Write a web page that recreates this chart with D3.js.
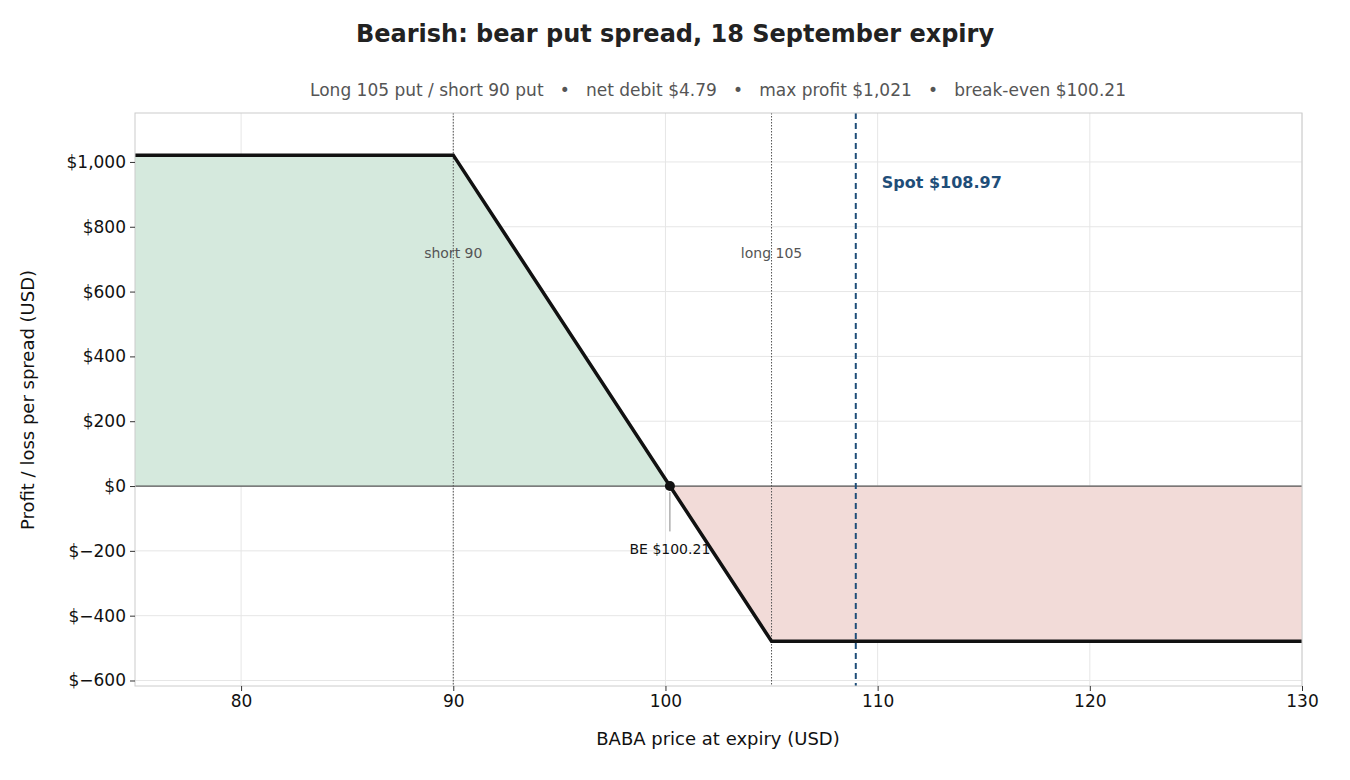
<!DOCTYPE html>
<html><head><meta charset="utf-8">
<script src="https://cdn.jsdelivr.net/npm/d3@7"></script>
<style>body{margin:0;background:#fff}text{font-family:"DejaVu Sans",sans-serif}</style>
</head><body><svg id="c" width="1350" height="780"></svg>
<script>
const payoffX = [75, 90, 105, 130];
const payoffY = [1021, 1021, -479, -479];
const xTicks = [80, 90, 100, 110, 120, 130];
const yTicks = [-600, -400, -200, 0, 200, 400, 600, 800, 1000];
const strikes = [{k:90,label:"short 90"},{k:105,label:"long 105"}];
const spot = 108.97, breakEven = 100.21;

const svg = d3.select("#c");
const L=135,R=1302,T=113,B=686;
const x = d3.scaleLinear().domain([75,130]).range([L,R]);
const y = d3.scaleLinear().domain([-617,1151]).range([B,T]);
const pts = payoffX.map((v,i)=>[v,payoffY[i]]);

// grid
svg.append("g").selectAll("line").data(xTicks).join("line")
 .attr("x1",d=>x(d)).attr("x2",d=>x(d)).attr("y1",T).attr("y2",B).attr("stroke","#e6e6e6");
svg.append("g").selectAll("line").data(yTicks).join("line")
 .attr("y1",d=>y(d)).attr("y2",d=>y(d)).attr("x1",L).attr("x2",R).attr("stroke","#e6e6e6");

// fills
const area = d3.area().x(d=>x(d[0])).y0(y(0)).y1(d=>y(d[1]));
const profitPts = [[75,1021],[90,1021],[breakEven,0]];
const lossPts = [[breakEven,0],[105,-479],[130,-479]];
svg.append("path").attr("d",area(profitPts)).attr("fill","#d5e9dd");
svg.append("path").attr("d",area(lossPts)).attr("fill","#f2dbd8");

// zero line
svg.append("line").attr("x1",L).attr("x2",R).attr("y1",y(0)).attr("y2",y(0)).attr("stroke","#555").attr("stroke-width",1.3);

// strikes
strikes.forEach(s=>{
 svg.append("line").attr("x1",x(s.k)).attr("x2",x(s.k)).attr("y1",T).attr("y2",B)
  .attr("stroke","#555").attr("stroke-width",1).attr("stroke-dasharray","1.5,1.5");
 svg.append("text").attr("x",x(s.k)).attr("y",y(720)+5).attr("text-anchor","middle")
  .attr("font-size",14).attr("fill","#555").text(s.label);
});
// spot
svg.append("line").attr("x1",x(spot)).attr("x2",x(spot)).attr("y1",T).attr("y2",B)
 .attr("stroke","#1f4e79").attr("stroke-width",2).attr("stroke-dasharray","6,4");
svg.append("text").attr("x",x(spot)+26).attr("y",188).attr("font-size",16).attr("font-weight","bold")
 .attr("fill","#1f4e79").text("Spot $108.97");

// payoff line
svg.append("path").attr("d",d3.line().x(d=>x(d[0])).y(d=>y(d[1]))(pts))
 .attr("fill","none").attr("stroke","#111").attr("stroke-width",3.5);

// BE
svg.append("line").attr("x1",x(breakEven)).attr("x2",x(breakEven)).attr("y1",y(0)+6).attr("y2",y(-140))
 .attr("stroke","#888").attr("stroke-width",1);
svg.append("circle").attr("cx",x(breakEven)).attr("cy",y(0)).attr("r",5).attr("fill","#111");
svg.append("text").attr("x",x(breakEven)).attr("y",554).attr("text-anchor","middle").attr("font-size",14)
 .attr("fill","#111").text("BE $100.21");

// frame
svg.append("rect").attr("x",L).attr("y",T).attr("width",R-L).attr("height",B-T).attr("fill","none").attr("stroke","#ccc");

// axes
const xa = svg.append("g").attr("transform",`translate(0,${B})`).call(d3.axisBottom(x).tickValues(xTicks).tickSize(5).tickPadding(4));
const ya = svg.append("g").attr("transform",`translate(${L},0)`).call(d3.axisLeft(y).tickValues(yTicks).tickSize(5).tickPadding(4).tickFormat(d=>"$"+d3.format(",")(d)));
[xa,ya].forEach(a=>{a.select(".domain").remove();a.selectAll("line").attr("stroke","#333");a.selectAll("text").attr("font-size",17).attr("fill","#111").attr("font-family","DejaVu Sans");});

svg.append("text").attr("x",675).attr("y",42).attr("text-anchor","middle").attr("font-size",24).attr("font-weight","bold").attr("fill","#222")
 .text("Bearish: bear put spread, 18 September expiry");
svg.append("text").attr("x",718).attr("y",96).attr("text-anchor","middle").attr("font-size",17).attr("fill","#555")
 .attr("xml:space","preserve").text("Long 105 put / short 90 put   •   net debit $4.79   •   max profit $1,021   •   break-even $100.21");
svg.append("text").attr("x",718).attr("y",745).attr("text-anchor","middle").attr("font-size",18).attr("fill","#111").text("BABA price at expiry (USD)");
svg.append("text").attr("transform","translate(34,400) rotate(-90)").attr("text-anchor","middle").attr("font-size",18).attr("fill","#111").text("Profit / loss per spread (USD)");
</script></body></html>
